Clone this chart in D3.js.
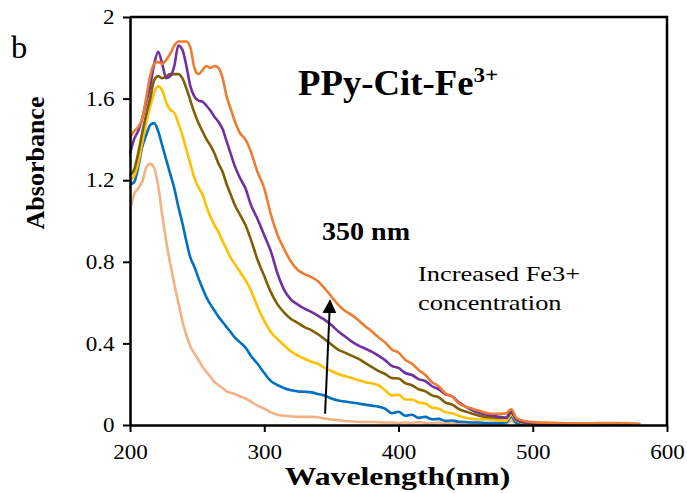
<!DOCTYPE html>
<html>
<head>
<meta charset="utf-8">
<script src="https://cdn.jsdelivr.net/npm/d3@7"></script>
<style>
  body { margin: 0; background: #fff; }
  svg { display: block; font-family: "Liberation Serif", "Times New Roman", serif; }
</style>
</head>
<body>
<div id="chart"></div>
<script>
// wavelengths (nm) shared by all spectra
const wavelength = [200,203,206,209,212,215,218,221,224,227,230,233,236,239,242,245,248,251,254,257,260,263,266,269,272,275,278,
  282,286,290,
  295,300,305,310,315,320,325,330,335,340,345,350,355,360,365,370,375,380,385,390,395,400,405,410,415,420,425,430,435,440,445,450,455,460,465,470,475,480,
  484,488,
  495,500,520,540,560,580];

// absorbance, lowest to highest Fe3+ concentration
const abs1 = [1.05,1.13,1.16,1.19,1.26,1.28,1.26,1.17,1.03,0.90,0.79,0.69,0.60,0.51,0.44,0.385,0.35,0.32,0.285,0.26,0.235,0.21,0.195,0.18,0.165,0.158,0.152,
  0.14,0.13,0.115,
  0.095,0.08,0.062,0.05,0.045,0.042,0.04,0.04,0.04,0.038,0.032,0.027,0.024,0.02,0.018,0.016,0.015,0.015,0.014,0.012,0.012,0.01,0.012,0.01,0.014,0.01,0.008,0.012,0.008,0.01,0.008,0.007,0.008,0.006,0.007,0.006,0.006,0.006,
  0.02,0.006,
  0.005,0.005,0.008,0.005,0.006,0.004];
const abs2 = [1.18,1.19,1.26,1.36,1.42,1.47,1.48,1.44,1.37,1.30,1.23,1.16,1.07,0.99,0.90,0.82,0.775,0.72,0.67,0.625,0.59,0.56,0.53,0.505,0.48,0.455,0.43,
  0.405,0.38,0.34,
  0.30,0.255,0.215,0.195,0.18,0.17,0.165,0.163,0.16,0.152,0.145,0.13,0.12,0.115,0.11,0.105,0.10,0.095,0.09,0.08,0.058,0.065,0.045,0.05,0.035,0.04,0.028,0.03,0.02,0.022,0.016,0.015,0.012,0.012,0.01,0.01,0.01,0.012,
  0.04,0.01,
  0.006,0.005,0.004,0.004,0.003,0.003];
const abs3 = [1.20,1.22,1.28,1.38,1.48,1.56,1.63,1.66,1.64,1.58,1.545,1.53,1.48,1.42,1.35,1.28,1.21,1.165,1.13,1.07,1.02,0.98,0.945,0.90,0.86,0.82,0.79,
  0.75,0.71,0.66,
  0.58,0.51,0.455,0.42,0.39,0.36,0.34,0.325,0.31,0.30,0.28,0.265,0.25,0.24,0.23,0.22,0.21,0.205,0.195,0.17,0.145,0.148,0.125,0.125,0.11,0.105,0.085,0.08,0.062,0.058,0.045,0.036,0.03,0.027,0.028,0.026,0.022,0.02,
  0.05,0.02,
  0.008,0.006,0.005,0.004,0.004,0.003];
const abs4 = [1.225,1.25,1.33,1.43,1.52,1.60,1.69,1.71,1.70,1.71,1.72,1.72,1.72,1.70,1.65,1.59,1.53,1.48,1.44,1.40,1.37,1.33,1.28,1.24,1.18,1.13,1.08,
  1.03,0.98,0.91,
  0.81,0.73,0.65,0.59,0.55,0.52,0.50,0.48,0.465,0.445,0.42,0.395,0.37,0.355,0.34,0.325,0.305,0.285,0.265,0.25,0.23,0.228,0.205,0.195,0.175,0.165,0.145,0.135,0.11,0.10,0.078,0.066,0.055,0.046,0.04,0.037,0.035,0.034,
  0.06,0.025,
  0.01,0.008,0.006,0.005,0.004,0.004];
const abs5 = [1.33,1.40,1.44,1.50,1.58,1.66,1.77,1.83,1.77,1.70,1.71,1.76,1.86,1.84,1.76,1.66,1.61,1.59,1.585,1.565,1.54,1.51,1.485,1.45,1.39,1.33,1.27,
  1.21,1.16,1.08,
  1.01,0.93,0.85,0.74,0.66,0.615,0.59,0.57,0.555,0.535,0.515,0.49,0.46,0.435,0.41,0.39,0.375,0.36,0.34,0.318,0.29,0.28,0.255,0.245,0.225,0.215,0.19,0.175,0.15,0.14,0.11,0.09,0.072,0.06,0.052,0.046,0.04,0.037,
  0.065,0.025,
  0.012,0.009,0.006,0.005,0.005,0.004];
const abs6 = [1.41,1.44,1.46,1.50,1.60,1.71,1.77,1.78,1.77,1.79,1.82,1.86,1.88,1.88,1.88,1.85,1.75,1.72,1.74,1.76,1.75,1.76,1.75,1.70,1.61,1.55,1.49,
  1.43,1.40,1.34,
  1.24,1.16,1.03,0.93,0.86,0.80,0.76,0.74,0.725,0.705,0.67,0.63,0.59,0.56,0.54,0.515,0.485,0.46,0.43,0.405,0.37,0.355,0.32,0.30,0.27,0.245,0.21,0.19,0.155,0.14,0.105,0.09,0.08,0.07,0.06,0.055,0.055,0.057,
  0.077,0.033,
  0.018,0.014,0.01,0.008,0.01,0.006];

const series = [abs1, abs2, abs3, abs4, abs5, abs6];
const colors = ["#F4B183", "#0070C0", "#FFC000", "#7F6000", "#7030A0", "#ED7D31"];

const xTicks = [200, 300, 400, 500, 600];
const yTicks = [0, 0.4, 0.8, 1.2, 1.6, 2];

const width = 687, height = 493;
const margin = {top: 17, right: 20, bottom: 68, left: 130};

const x = d3.scaleLinear().domain([200, 600]).range([margin.left, width - margin.right]);
const y = d3.scaleLinear().domain([0, 2]).range([height - margin.bottom, margin.top]);

const svg = d3.select("#chart").append("svg")
    .attr("width", width)
    .attr("height", height);

// spectra
const line = d3.line()
    .x((d, i) => x(wavelength[i]))
    .y(d => y(d))
    .curve(d3.curveMonotoneX);

svg.append("g")
  .selectAll("path")
  .data(series)
  .join("path")
    .attr("fill", "none")
    .attr("stroke", (d, i) => colors[i])
    .attr("stroke-width", 2.6)
    .attr("stroke-linejoin", "round")
    .attr("d", line);

// frame (top + right)
svg.append("path")
    .attr("fill", "none")
    .attr("stroke", "#000")
    .attr("stroke-width", 2.5)
    .attr("d", `M${x(200)},${y(2)}H${x(600)}V${y(0)}`);

const xAxis = g => g
    .attr("transform", `translate(0,${y(0)})`)
    .call(d3.axisBottom(x).tickValues(xTicks).tickSize(7).tickPadding(12).tickSizeOuter(0))
    .call(g => g.select(".domain").attr("stroke-width", 2.5))
    .call(g => g.selectAll(".tick line").attr("stroke-width", 2))
    .call(g => g.selectAll(".tick text").attr("font-size", 21).attr("font-family", "Liberation Serif")
        .attr("fill", "#000").attr("transform", "scale(1.1,1)"));

const yAxis = g => g
    .attr("transform", `translate(${x(200)},0)`)
    .call(d3.axisLeft(y).tickValues(yTicks).tickFormat(d3.format("~g")).tickSize(7).tickPadding(7).tickSizeOuter(0))
    .call(g => g.select(".domain").attr("stroke-width", 2.5))
    .call(g => g.selectAll(".tick line").attr("stroke-width", 2))
    .call(g => g.selectAll(".tick text").attr("font-size", 21).attr("font-family", "Liberation Serif")
        .attr("fill", "#000").attr("transform", "scale(1.1,1)"));

svg.append("g").call(xAxis);
svg.append("g").call(yAxis);

// text whose glyphs are widened like the source figure
function label(px, py, sx, size, bold, str) {
  return svg.append("text")
      .attr("transform", `translate(${px},${py}) scale(${sx},1)`)
      .attr("font-size", size)
      .attr("font-weight", bold ? "bold" : null)
      .text(str);
}

// axis titles
label(x(400) - 1, 485, 1.27, 25, true, "Wavelength(nm)").attr("text-anchor", "middle");

svg.append("text")
    .attr("transform", `translate(44,163) rotate(-90)`)
    .attr("text-anchor", "middle")
    .attr("font-weight", "bold")
    .attr("font-size", 26)
    .text("Absorbance");

// panel letter
label(11, 58, 1.05, 31, false, "b");

// title
label(298, 95, 1.05, 35, true, "PPy-Cit-Fe")
  .append("tspan")
    .attr("font-size", 22)
    .attr("dy", -13)
    .text("3+");

label(322, 240, 1.08, 26, true, "350 nm");

const noteLines = ["Increased Fe3+", "concentration"];
noteLines.forEach((s, i) => label(418, 281 + i * 29, 1.2, 22, false, s));

// arrow
svg.append("defs").append("marker")
    .attr("id", "head")
    .attr("viewBox", "0 0 10 10")
    .attr("refX", 9).attr("refY", 5)
    .attr("markerWidth", 7).attr("markerHeight", 7)
    .attr("markerUnits", "strokeWidth")
    .attr("orient", "auto")
  .append("path")
    .attr("d", "M0,0L10,5L0,10Z")
    .attr("fill", "#000");

svg.append("line")
    .attr("x1", x(345.3)).attr("y1", y(0.055))
    .attr("x2", x(349)).attr("y2", y(0.61))
    .attr("stroke", "#000")
    .attr("stroke-width", 2)
    .attr("marker-end", "url(#head)");
</script>
</body>
</html>
